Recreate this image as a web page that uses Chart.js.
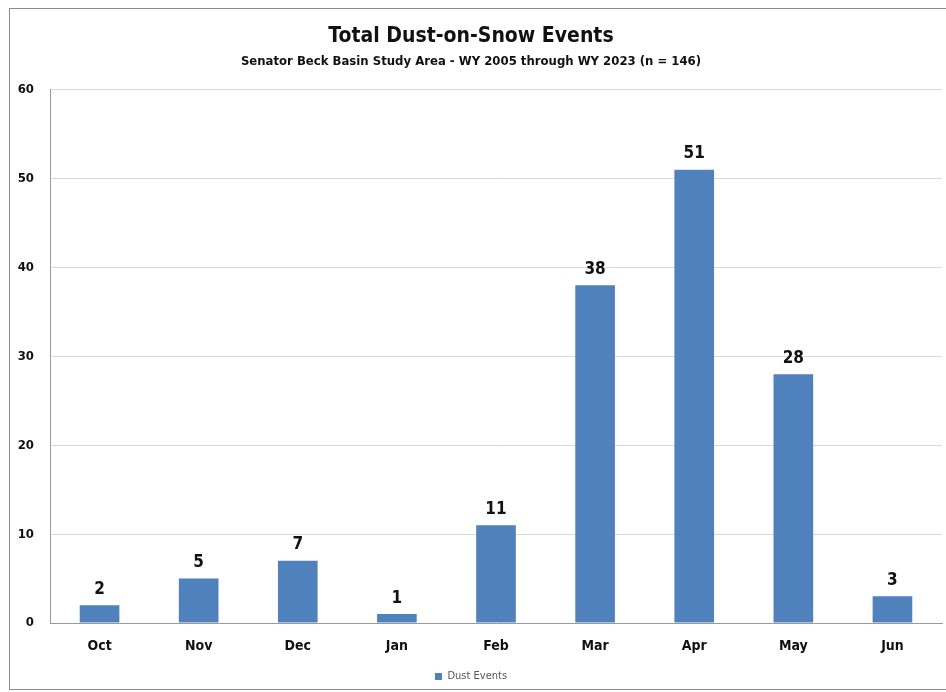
<!DOCTYPE html>
<html>
<head>
<meta charset="utf-8">
<script src="https://cdn.jsdelivr.net/npm/chart.js@4.4.0/dist/chart.umd.min.js"></script>
<style>
	body { margin: 0; background: #fff; }
	#wrap { position: relative; width: 946px; height: 692px; overflow: hidden; }
	#frame { position: absolute; left: 9px; top: 8px; width: 960px; height: 682px; border: 1px solid #8c8c8c; box-sizing: border-box; }
	canvas { position: absolute; left: 0; top: 0; }
</style>
</head>
<body>
<div id="wrap">
	<div id="frame"></div>
	<canvas id="dust-graph" width="946" height="692"></canvas>
</div>
<script>
const months = ["Oct", "Nov", "Dec", "Jan", "Feb", "Mar", "Apr", "May", "Jun"];
const dustEvents = [2, 5, 7, 1, 11, 38, 51, 28, 3];
const yTicks = [0, 10, 20, 30, 40, 50, 60];

const FONT = "'Liberation Sans Narrow', 'DejaVu Sans Condensed', sans-serif";

// draws the number above each bar
const barValues = {
	id: "barValues",
	afterDatasetsDraw(chart) {
		const ctx = chart.ctx;
		const meta = chart.getDatasetMeta(0);
		ctx.save();
		ctx.font = "bold 17px " + FONT;
		ctx.fillStyle = "#111";
		ctx.textAlign = "center";
		ctx.textBaseline = "middle";
		meta.data.forEach((bar, i) => {
			ctx.fillText(dustEvents[i], bar.x, bar.y - 16);
		});
		ctx.restore();
	}
};

new Chart(document.getElementById("dust-graph"), {
	type: "bar",
	data: {
		labels: months,
		datasets: [
			{
				label: "Dust Events",
				data: dustEvents,
				backgroundColor: "#4f81bd",
				borderWidth: 0,
				barPercentage: 0.4,
				categoryPercentage: 1
			}
		]
	},
	options: {
		responsive: false,
		animation: false,
		layout: { padding: { left: 0, right: 4, top: 0, bottom: 0 } },
		plugins: {
			title: {
				display: true,
				text: "Total Dust-on-Snow Events",
				color: "#111",
				font: { family: FONT, size: 21, weight: "bold" },
				padding: { top: 24, bottom: 0 }
			},
			subtitle: {
				display: true,
				text: "Senator Beck Basin Study Area - WY 2005 through WY 2023 (n = 146)",
				color: "#111",
				font: { family: FONT, size: 13, weight: "bold" },
				padding: { top: 5, bottom: 20 }
			},
			legend: {
				position: "bottom",
				labels: {
					color: "#555",
					font: { family: FONT, size: 11 },
					boxWidth: 7,
					boxHeight: 7,
					padding: 4
				}
			},
			tooltip: { enabled: false }
		},
		scales: {
			x: {
				afterFit(scale) { scale.height = 44; },
				grid: { display: false, drawTicks: false },
				border: { color: "#9a9a9a" },
				ticks: {
					color: "#111",
					font: { family: FONT, size: 14, weight: "bold" },
					padding: 15
				}
			},
			y: {
				min: 0,
				max: 60,
				afterFit(scale) { scale.width = 50; },
				afterBuildTicks(scale) { scale.ticks = yTicks.map(v => ({ value: v })); },
				grid: { color: "#d9d9d9", drawTicks: false },
				border: { color: "#9a9a9a" },
				ticks: {
					color: "#111",
					font: { family: FONT, size: 13, weight: "bold" },
					padding: 16
				}
			}
		}
	},
	plugins: [barValues]
});
</script>
</body>
</html>
